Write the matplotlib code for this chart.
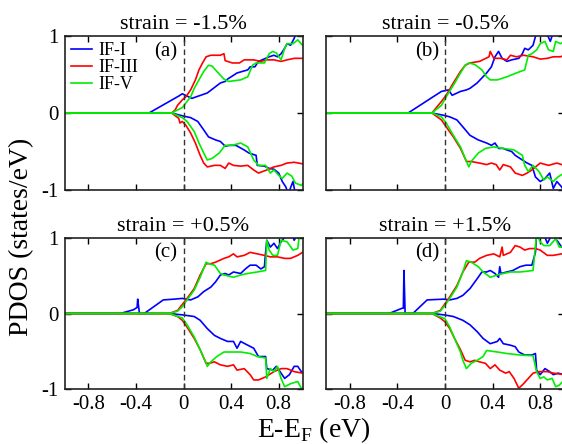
import numpy as np
import matplotlib
matplotlib.use("Agg")
import matplotlib.pyplot as plt

plt.rcParams["font.family"] = "Liberation Serif"
plt.rcParams["mathtext.fontset"] = "custom"
plt.rcParams["mathtext.rm"] = "Liberation Serif"

# (E - E_F, PDOS) points; "up" = spin up, "dn" = spin down
# ---- panel (a), strain = -1.5% ----
a_if1_up = [(-1, 0), (-0.29, 0), (-0.04, 0.22), (-0.01, 0.25), (0.03, 0.22), (0.07, 0.19), (0.2, 0.26),
            (0.31, 0.39), (0.35, 0.41), (0.37, 0.44), (0.45, 0.52), (0.54, 0.56), (0.56, 0.6), (0.6, 0.6),
            (0.63, 0.67), (0.72, 0.73), (0.76, 0.75), (0.79, 0.73), (0.82, 0.77), (0.85, 0.84), (0.87, 0.9),
            (0.9, 0.88), (0.93, 0.97), (0.95, 1.05), (1.0, 1.05)]
a_if3_up = [(-1, 0), (-0.1, 0), (-0.07, 0.04), (-0.05, 0.1), (-0.01, 0.17), (0.02, 0.21), (0.06, 0.3),
            (0.1, 0.43), (0.13, 0.56), (0.16, 0.65), (0.19, 0.73), (0.23, 0.75), (0.31, 0.75), (0.34, 0.77),
            (0.35, 0.68), (0.37, 0.67), (0.41, 0.65), (0.47, 0.65), (0.51, 0.69), (0.59, 0.69), (0.65, 0.67),
            (0.7, 0.69), (0.76, 0.69), (0.82, 0.67), (0.87, 0.69), (0.93, 0.71), (1.0, 0.71)]
a_if5_up = [(-1, 0), (-0.1, 0), (-0.05, 0.04), (-0.01, 0.07), (0.02, 0.13), (0.06, 0.21), (0.09, 0.32),
            (0.13, 0.43), (0.17, 0.54), (0.21, 0.62), (0.24, 0.61), (0.28, 0.54), (0.34, 0.44), (0.38, 0.41),
            (0.48, 0.43), (0.54, 0.47), (0.58, 0.62), (0.61, 0.65), (0.68, 0.65), (0.72, 0.77), (0.75, 0.8),
            (0.78, 0.78), (0.82, 0.69), (0.85, 0.84), (0.87, 0.9), (0.92, 0.9), (0.96, 0.95), (1.0, 0.88)]
a_if1_dn = [(-1, 0), (-0.1, 0), (0.0, -0.04), (0.06, -0.06), (0.12, -0.11), (0.17, -0.22), (0.21, -0.31),
            (0.27, -0.35), (0.31, -0.37), (0.35, -0.43), (0.39, -0.42), (0.44, -0.42), (0.51, -0.48),
            (0.55, -0.52), (0.61, -0.55), (0.62, -0.68), (0.68, -0.69), (0.72, -0.72), (0.76, -0.73),
            (0.8, -0.78), (0.83, -0.89), (0.86, -0.96), (0.88, -1.05), (0.92, -0.89), (0.94, -1.05), (1.0, -1.05)]
a_if3_dn = [(-1, 0), (-0.1, 0), (-0.04, -0.07), (-0.03, -0.13), (-0.01, -0.11), (0.02, -0.16), (0.06, -0.26),
            (0.1, -0.39), (0.14, -0.55), (0.17, -0.65), (0.2, -0.7), (0.26, -0.68), (0.31, -0.68), (0.35, -0.72),
            (0.38, -0.65), (0.42, -0.68), (0.48, -0.69), (0.54, -0.68), (0.59, -0.74), (0.63, -0.78), (0.7, -0.74),
            (0.76, -0.7), (0.82, -0.68), (0.87, -0.65), (0.93, -0.64), (1.0, -0.66)]
a_if5_dn = [(-1, 0), (-0.1, 0), (-0.01, -0.06), (0.03, -0.11), (0.09, -0.24), (0.13, -0.39), (0.17, -0.52),
            (0.2, -0.61), (0.24, -0.59), (0.3, -0.52), (0.35, -0.42), (0.41, -0.42), (0.48, -0.39), (0.54, -0.44),
            (0.59, -0.61), (0.63, -0.68), (0.69, -0.68), (0.73, -0.78), (0.76, -0.74), (0.8, -0.81), (0.83, -0.85),
            (0.87, -0.78), (0.91, -0.82), (0.94, -0.91), (0.99, -0.94), (1.0, -0.92)]

# ---- panel (b), strain = -0.5% ----
b_if1_up = [(-1, 0), (-0.31, 0), (-0.03, 0.28), (0.03, 0.3), (0.06, 0.23), (0.13, 0.28), (0.18, 0.3),
            (0.21, 0.32), (0.27, 0.39), (0.35, 0.52), (0.39, 0.6), (0.42, 0.73), (0.45, 0.8), (0.48, 0.71),
            (0.52, 0.67), (0.56, 0.69), (0.62, 0.71), (0.65, 0.77), (0.67, 0.84), (0.7, 0.82), (0.74, 0.88),
            (0.77, 1.05), (0.85, 1.05), (0.885, 0.93), (0.91, 1.05), (1.0, 1.05)]
b_if3_up = [(-1, 0), (-0.11, 0), (-0.03, 0.15), (0.01, 0.23), (0.07, 0.39), (0.13, 0.54), (0.17, 0.62),
            (0.21, 0.65), (0.29, 0.67), (0.37, 0.73), (0.38, 0.8), (0.41, 0.71), (0.47, 0.71), (0.52, 0.69),
            (0.55, 0.75), (0.6, 0.73), (0.66, 0.75), (0.74, 0.73), (0.8, 0.7), (0.86, 0.71), (0.91, 0.73),
            (0.97, 0.73), (1.0, 0.75)]
b_if5_up = [(-1, 0), (-0.11, 0), (-0.03, 0.1), (0.01, 0.21), (0.07, 0.36), (0.13, 0.52), (0.17, 0.62),
            (0.2, 0.65), (0.25, 0.63), (0.31, 0.56), (0.35, 0.47), (0.38, 0.43), (0.44, 0.43), (0.52, 0.47),
            (0.6, 0.52), (0.67, 0.56), (0.7, 0.75), (0.73, 0.77), (0.77, 0.82), (0.8, 0.9), (0.84, 0.93),
            (0.87, 0.82), (0.91, 0.8), (0.93, 0.93), (0.97, 0.9), (1.0, 0.93)]
b_if1_dn = [(-1, 0), (-0.11, 0), (-0.01, -0.03), (0.04, -0.05), (0.1, -0.09), (0.15, -0.18), (0.21, -0.29),
            (0.28, -0.35), (0.35, -0.39), (0.39, -0.42), (0.42, -0.39), (0.45, -0.46), (0.49, -0.46),
            (0.52, -0.48), (0.56, -0.5), (0.59, -0.55), (0.63, -0.59), (0.69, -0.65), (0.73, -0.68),
            (0.76, -0.83), (0.8, -0.89), (0.84, -0.85), (0.88, -0.78), (0.91, -0.98), (0.94, -0.89),
            (0.98, -0.96), (1.0, -1.02)]
b_if3_dn = [(-1, 0), (-0.11, 0), (-0.03, -0.09), (0.01, -0.18), (0.07, -0.31), (0.13, -0.46), (0.18, -0.63),
            (0.22, -0.63), (0.29, -0.65), (0.35, -0.67), (0.39, -0.65), (0.43, -0.67), (0.46, -0.74),
            (0.49, -0.67), (0.55, -0.7), (0.59, -0.78), (0.65, -0.81), (0.69, -0.78), (0.73, -0.74),
            (0.8, -0.65), (0.87, -0.68), (0.94, -0.65), (1.0, -0.68)]
b_if5_dn = [(-1, 0), (-0.11, 0), (-0.03, -0.05), (0.01, -0.13), (0.07, -0.29), (0.13, -0.44), (0.17, -0.59),
            (0.2, -0.7), (0.22, -0.63), (0.28, -0.52), (0.34, -0.46), (0.41, -0.44), (0.49, -0.46),
            (0.58, -0.48), (0.65, -0.55), (0.67, -0.68), (0.7, -0.76), (0.74, -0.68), (0.79, -0.76),
            (0.83, -0.87), (0.86, -0.83), (0.91, -0.89), (0.95, -0.83), (1.0, -0.78)]

# ---- panel (c), strain = +0.5% ----
c_if1_up = [(-1, 0), (-0.53, 0), (-0.42, 0.05), (-0.39, 0.08), (-0.385, 0.19), (-0.37, 0.0), (-0.33, 0.0),
            (-0.17, 0.18), (-0.08, 0.19), (-0.01, 0.2), (0.02, 0.19), (0.06, 0.18), (0.12, 0.22), (0.17, 0.29),
            (0.23, 0.35), (0.27, 0.42), (0.31, 0.51), (0.35, 0.53), (0.38, 0.51), (0.42, 0.55), (0.48, 0.53),
            (0.52, 0.59), (0.56, 0.64), (0.61, 0.64), (0.65, 0.59), (0.68, 0.62), (0.69, 0.81), (0.7, 0.97),
            (0.73, 0.88), (0.76, 0.93), (0.79, 0.86), (0.82, 0.95), (0.87, 1.05), (0.91, 1.05), (0.93, 0.97),
            (0.96, 1.05), (1.0, 1.05)]
c_if3_up = [(-1, 0), (-0.12, 0), (-0.05, 0.04), (-0.01, 0.12), (0.03, 0.2), (0.09, 0.33), (0.14, 0.51),
            (0.19, 0.66), (0.23, 0.66), (0.27, 0.68), (0.34, 0.73), (0.38, 0.75), (0.42, 0.79), (0.45, 0.75),
            (0.51, 0.77), (0.56, 0.81), (0.62, 0.79), (0.68, 0.77), (0.73, 0.75), (0.79, 0.75), (0.85, 0.73),
            (0.9, 0.73), (0.96, 0.77), (1.0, 0.81)]
c_if5_up = [(-1, 0), (-0.12, 0), (-0.05, 0.03), (-0.01, 0.09), (0.03, 0.18), (0.09, 0.31), (0.14, 0.48),
            (0.19, 0.68), (0.21, 0.66), (0.26, 0.64), (0.31, 0.53), (0.34, 0.51), (0.42, 0.48), (0.48, 0.51),
            (0.54, 0.53), (0.62, 0.55), (0.69, 0.57), (0.7, 0.97), (0.72, 0.84), (0.75, 0.77), (0.79, 0.77),
            (0.82, 0.97), (0.87, 0.95), (0.92, 0.84), (0.96, 0.86), (0.97, 0.99), (1.0, 1.05)]
c_if1_dn = [(-1, 0), (-0.12, 0), (0.0, -0.02), (0.09, -0.04), (0.14, -0.09), (0.2, -0.2), (0.26, -0.29),
            (0.31, -0.33), (0.37, -0.37), (0.42, -0.37), (0.45, -0.46), (0.48, -0.37), (0.54, -0.42),
            (0.59, -0.46), (0.63, -0.57), (0.69, -0.57), (0.7, -0.73), (0.75, -0.75), (0.78, -0.7),
            (0.82, -0.79), (0.85, -0.86), (0.89, -0.81), (0.93, -0.7), (0.96, -0.7), (0.99, -0.77), (1.0, -0.78)]
c_if3_dn = [(-1, 0), (-0.12, 0), (-0.05, -0.04), (-0.01, -0.09), (0.03, -0.18), (0.09, -0.33), (0.14, -0.48),
            (0.19, -0.66), (0.22, -0.66), (0.26, -0.64), (0.31, -0.68), (0.37, -0.7), (0.42, -0.68),
            (0.45, -0.75), (0.51, -0.73), (0.56, -0.81), (0.59, -0.88), (0.63, -0.88), (0.69, -0.84),
            (0.76, -0.77), (0.82, -0.73), (0.87, -0.73), (0.93, -0.77), (1.0, -0.79)]
c_if5_dn = [(-1, 0), (-0.12, 0), (-0.01, -0.06), (0.03, -0.15), (0.09, -0.31), (0.14, -0.48), (0.19, -0.66),
            (0.2, -0.7), (0.23, -0.64), (0.28, -0.57), (0.34, -0.51), (0.48, -0.51), (0.56, -0.53),
            (0.62, -0.57), (0.69, -0.59), (0.7, -0.86), (0.73, -0.73), (0.76, -0.77), (0.79, -0.7),
            (0.82, -0.86), (0.85, -0.97), (0.9, -0.93), (0.96, -0.9), (0.99, -0.99), (1.0, -1.05)]

# ---- panel (d), strain = +1.5% ----
d_if1_up = [(-1, 0), (-0.47, 0), (-0.36, 0.07), (-0.35, 0.07), (-0.345, 0.57), (-0.335, 0.0), (-0.27, 0.0),
            (-0.15, 0.18), (-0.01, 0.19), (0.04, 0.18), (0.1, 0.2), (0.15, 0.24), (0.21, 0.33), (0.27, 0.46),
            (0.31, 0.55), (0.35, 0.55), (0.38, 0.57), (0.42, 0.53), (0.45, 0.48), (0.46, 0.62), (0.47, 0.53),
            (0.52, 0.55), (0.57, 0.57), (0.63, 0.62), (0.68, 0.64), (0.73, 0.64), (0.76, 0.81), (0.77, 1.05),
            (0.83, 1.05), (0.86, 0.93), (0.9, 1.05), (0.95, 0.95), (0.98, 0.88), (1.0, 0.9)]
d_if3_up = [(-1, 0), (-0.11, 0), (-0.04, 0.04), (0.0, 0.13), (0.04, 0.22), (0.1, 0.37), (0.15, 0.55),
            (0.2, 0.68), (0.25, 0.68), (0.29, 0.73), (0.35, 0.77), (0.41, 0.79), (0.46, 0.75), (0.48, 0.88),
            (0.49, 0.77), (0.55, 0.81), (0.59, 0.9), (0.63, 0.88), (0.67, 0.84), (0.71, 0.86), (0.76, 0.86),
            (0.8, 0.84), (0.86, 0.77), (0.91, 0.77), (0.98, 0.79), (1.0, 0.79)]
d_if5_up = [(-1, 0), (-0.11, 0), (-0.04, 0.03), (0.0, 0.11), (0.04, 0.2), (0.1, 0.35), (0.15, 0.55),
            (0.18, 0.7), (0.22, 0.68), (0.28, 0.62), (0.32, 0.55), (0.38, 0.48), (0.44, 0.51), (0.49, 0.53),
            (0.55, 0.55), (0.63, 0.55), (0.69, 0.56), (0.74, 0.57), (0.76, 0.9), (0.77, 1.05), (0.8, 0.95),
            (0.83, 0.9), (0.88, 0.9), (0.93, 0.99), (0.96, 0.88), (1.0, 0.88)]
d_if1_dn = [(-1, 0), (-0.11, 0), (0.0, -0.02), (0.07, -0.04), (0.15, -0.09), (0.21, -0.15), (0.27, -0.24),
            (0.32, -0.33), (0.38, -0.4), (0.44, -0.37), (0.46, -0.33), (0.49, -0.4), (0.55, -0.42),
            (0.59, -0.44), (0.62, -0.51), (0.67, -0.55), (0.73, -0.55), (0.76, -0.53), (0.77, -0.75),
            (0.8, -0.81), (0.84, -0.73), (0.88, -0.77), (0.91, -0.81), (0.95, -0.79), (1.0, -0.81)]
d_if3_dn = [(-1, 0), (-0.11, 0), (-0.04, -0.06), (0.0, -0.11), (0.04, -0.2), (0.08, -0.33), (0.13, -0.48),
            (0.17, -0.62), (0.21, -0.64), (0.25, -0.62), (0.29, -0.64), (0.34, -0.66), (0.38, -0.73),
            (0.42, -0.68), (0.46, -0.75), (0.51, -0.79), (0.54, -0.77), (0.58, -0.86), (0.62, -0.99),
            (0.66, -0.93), (0.7, -0.86), (0.74, -0.79), (0.79, -0.77), (0.86, -0.77), (0.91, -0.79), (1.0, -0.81)]
d_if5_dn = [(-1, 0), (-0.11, 0), (0.0, -0.07), (0.04, -0.18), (0.08, -0.33), (0.13, -0.51), (0.15, -0.62),
            (0.18, -0.73), (0.22, -0.66), (0.27, -0.62), (0.32, -0.57), (0.35, -0.49), (0.44, -0.51),
            (0.52, -0.53), (0.63, -0.55), (0.74, -0.56), (0.77, -0.77), (0.8, -0.86), (0.83, -0.84),
            (0.86, -0.88), (0.9, -0.86), (0.93, -0.97), (0.96, -0.95), (1.0, -0.88)]

titles = ["strain = -1.5%", "strain = -0.5%", "strain = +0.5%", "strain = +1.5%"]
tags = ["(a)", "(b)", "(c)", "(d)"]
labels = ["IF-I", "IF-III", "IF-V"]
colors = ["#0000ff", "#ff0000", "#00ee00"]

panels = [
    [(a_if1_up, a_if1_dn), (a_if3_up, a_if3_dn), (a_if5_up, a_if5_dn)],
    [(b_if1_up, b_if1_dn), (b_if3_up, b_if3_dn), (b_if5_up, b_if5_dn)],
    [(c_if1_up, c_if1_dn), (c_if3_up, c_if3_dn), (c_if5_up, c_if5_dn)],
    [(d_if1_up, d_if1_dn), (d_if3_up, d_if3_dn), (d_if5_up, d_if5_dn)],
]

fig = plt.figure(figsize=(5.62, 4.44), dpi=100)
W, H = 562.0, 444.0
boxes = [(64.5, 36, 238, 154), (326.0, 36, 238, 154),
         (64.5, 238, 238, 151), (326.0, 238, 238, 151)]

for k, (x0, y0, w, h) in enumerate(boxes):
    ax = fig.add_axes([x0 / W, 1 - (y0 + h) / H, w / W, h / H])
    for (up, dn), lab, col in zip(panels[k], labels, colors):
        up = np.array(up)
        dn = np.array(dn)
        ax.plot(up[:, 0], up[:, 1], color=col, lw=1.2, label=lab)
        ax.plot(dn[:, 0], dn[:, 1], color=col, lw=1.2)
    ax.axvline(0, color="#333333", lw=1.0, ls=(0, (4, 2.5)))
    ax.set_xlim(-1, 1)
    ax.set_ylim(-1, 1)
    ax.set_xticks([-0.8, -0.4, 0, 0.4, 0.8])
    ax.set_xticklabels(["-0.8", "-0.4", "0", "0.4", "0.8"])
    ax.set_yticks([-1, 0, 1])
    ax.set_yticklabels(["-1", "0", "1"])
    ax.tick_params(direction="in", top=True, right=True, length=4, width=1,
                   labelsize=15, pad=4)
    if k < 2:
        ax.tick_params(labelbottom=False)
    if k % 2 == 1:
        ax.tick_params(labelleft=False)
    for s in ax.spines.values():
        s.set_linewidth(1.2)
        s.set_color("#222222")
    ax.set_title(titles[k], fontsize=16, pad=5)
    ax.text(0.475, 0.9, tags[k], transform=ax.transAxes, ha="right", va="center",
            fontsize=15)
    if k == 0:
        ax.legend(loc="upper left", frameon=False, fontsize=13, handlelength=1.2,
                  handletextpad=0.35, labelspacing=0.0, borderaxespad=0.15,
                  borderpad=0.2)

fig.text(22 / W, 1 - 237 / H, "PDOS (states/eV)", rotation=90, ha="center",
         va="center", fontsize=20)
fig.text(314 / W, 1 - 437 / H, "E-E$_\\mathregular{F}$ (eV)", ha="center",
         va="baseline", fontsize=20)

fig.savefig("out.png", dpi=100)
